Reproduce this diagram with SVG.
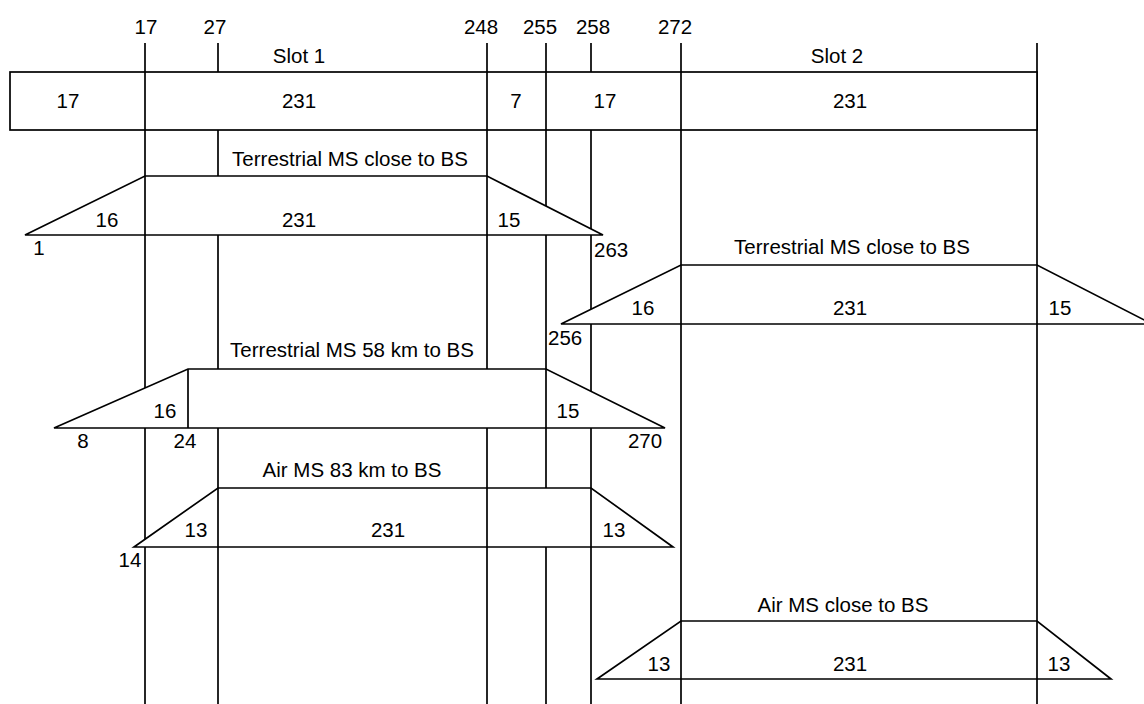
<svg xmlns="http://www.w3.org/2000/svg" width="1144" height="704" viewBox="0 0 1144 704">
<style>
.ln{stroke:#000;stroke-width:1.7;fill:none}
.sh{stroke:#000;stroke-width:1.7;fill:#fff;stroke-linejoin:miter}
text{font-family:"Liberation Sans",Arial,sans-serif;font-size:20.5px;fill:#000}
.m{text-anchor:middle}
</style>
<rect width="1144" height="704" fill="#fff"/>
<g id="connectors">
<line class="ln" x1="145" y1="43" x2="145" y2="704"/>
<line class="ln" x1="218" y1="43" x2="218" y2="704"/>
<line class="ln" x1="487" y1="43" x2="487" y2="704"/>
<line class="ln" x1="546" y1="43" x2="546" y2="704"/>
<line class="ln" x1="591" y1="43" x2="591" y2="704"/>
<line class="ln" x1="681" y1="43" x2="681" y2="704"/>
<line class="ln" x1="1037" y1="43" x2="1037" y2="704"/>
</g>
<g id="ticks">
<text class="m" x="146" y="34">17</text>
<text class="m" x="215" y="34">27</text>
<text class="m" x="481" y="34">248</text>
<text class="m" x="540" y="34">255</text>
<text class="m" x="593" y="34">258</text>
<text class="m" x="675" y="34">272</text>
<text class="m" x="299" y="63">Slot 1</text>
<text class="m" x="837" y="63">Slot 2</text>
</g>
<g id="frame">
<rect class="sh" x="10" y="72" width="1027" height="58"/>
<line class="ln" x1="145" y1="72" x2="145" y2="130"/>
<line class="ln" x1="487" y1="72" x2="487" y2="130"/>
<line class="ln" x1="546" y1="72" x2="546" y2="130"/>
<line class="ln" x1="681" y1="72" x2="681" y2="130"/>
<text class="m" x="68" y="108">17</text>
<text class="m" x="299" y="108">231</text>
<text class="m" x="516" y="108">7</text>
<text class="m" x="605" y="108">17</text>
<text class="m" x="850" y="108">231</text>
</g>
<g id="terr-close-1">
<text class="m" x="350" y="166">Terrestrial MS close to BS</text>
<polygon class="sh" points="25,235 145,176 487,176 603,235"/>
<line class="ln" x1="145" y1="176" x2="145" y2="235"/>
<line class="ln" x1="487" y1="176" x2="487" y2="235"/>
<text class="m" x="107" y="227">16</text>
<text class="m" x="299" y="227">231</text>
<text class="m" x="509" y="227">15</text>
<text class="m" x="39" y="255">1</text>
<text x="594" y="257">263</text>
</g>
<g id="terr-close-2">
<text class="m" x="852" y="254">Terrestrial MS close to BS</text>
<polygon class="sh" points="561,324 681,265 1037,265 1152,324"/>
<line class="ln" x1="681" y1="265" x2="681" y2="324"/>
<line class="ln" x1="1037" y1="265" x2="1037" y2="324"/>
<text class="m" x="643" y="315">16</text>
<text class="m" x="850" y="315">231</text>
<text class="m" x="1060" y="315">15</text>
<text x="548" y="345">256</text>
</g>
<g id="terr-58km">
<text class="m" x="352" y="357">Terrestrial MS 58 km to BS</text>
<polygon class="sh" points="54,428 188,369 546,369 665,428"/>
<line class="ln" x1="188" y1="369" x2="188" y2="428"/>
<line class="ln" x1="546" y1="369" x2="546" y2="428"/>
<text class="m" x="165" y="418">16</text>
<text class="m" x="568" y="418">15</text>
<text class="m" x="83" y="448">8</text>
<text class="m" x="185" y="448">24</text>
<text class="m" x="645" y="448">270</text>
</g>
<g id="air-83km">
<text class="m" x="352" y="477">Air MS 83 km to BS</text>
<polygon class="sh" points="134,547 218,488 591,488 673,547"/>
<line class="ln" x1="218" y1="488" x2="218" y2="547"/>
<line class="ln" x1="487" y1="488" x2="487" y2="547"/>
<line class="ln" x1="591" y1="488" x2="591" y2="547"/>
<text class="m" x="196" y="537">13</text>
<text class="m" x="388" y="537">231</text>
<text class="m" x="614" y="537">13</text>
<text class="m" x="130" y="567">14</text>
</g>
<g id="air-close">
<text class="m" x="843" y="612">Air MS close to BS</text>
<polygon class="sh" points="597,679 681,621 1037,621 1111,679"/>
<line class="ln" x1="681" y1="621" x2="681" y2="679"/>
<line class="ln" x1="1037" y1="621" x2="1037" y2="679"/>
<text class="m" x="659" y="671">13</text>
<text class="m" x="850" y="671">231</text>
<text class="m" x="1059" y="671">13</text>
</g>
</svg>
